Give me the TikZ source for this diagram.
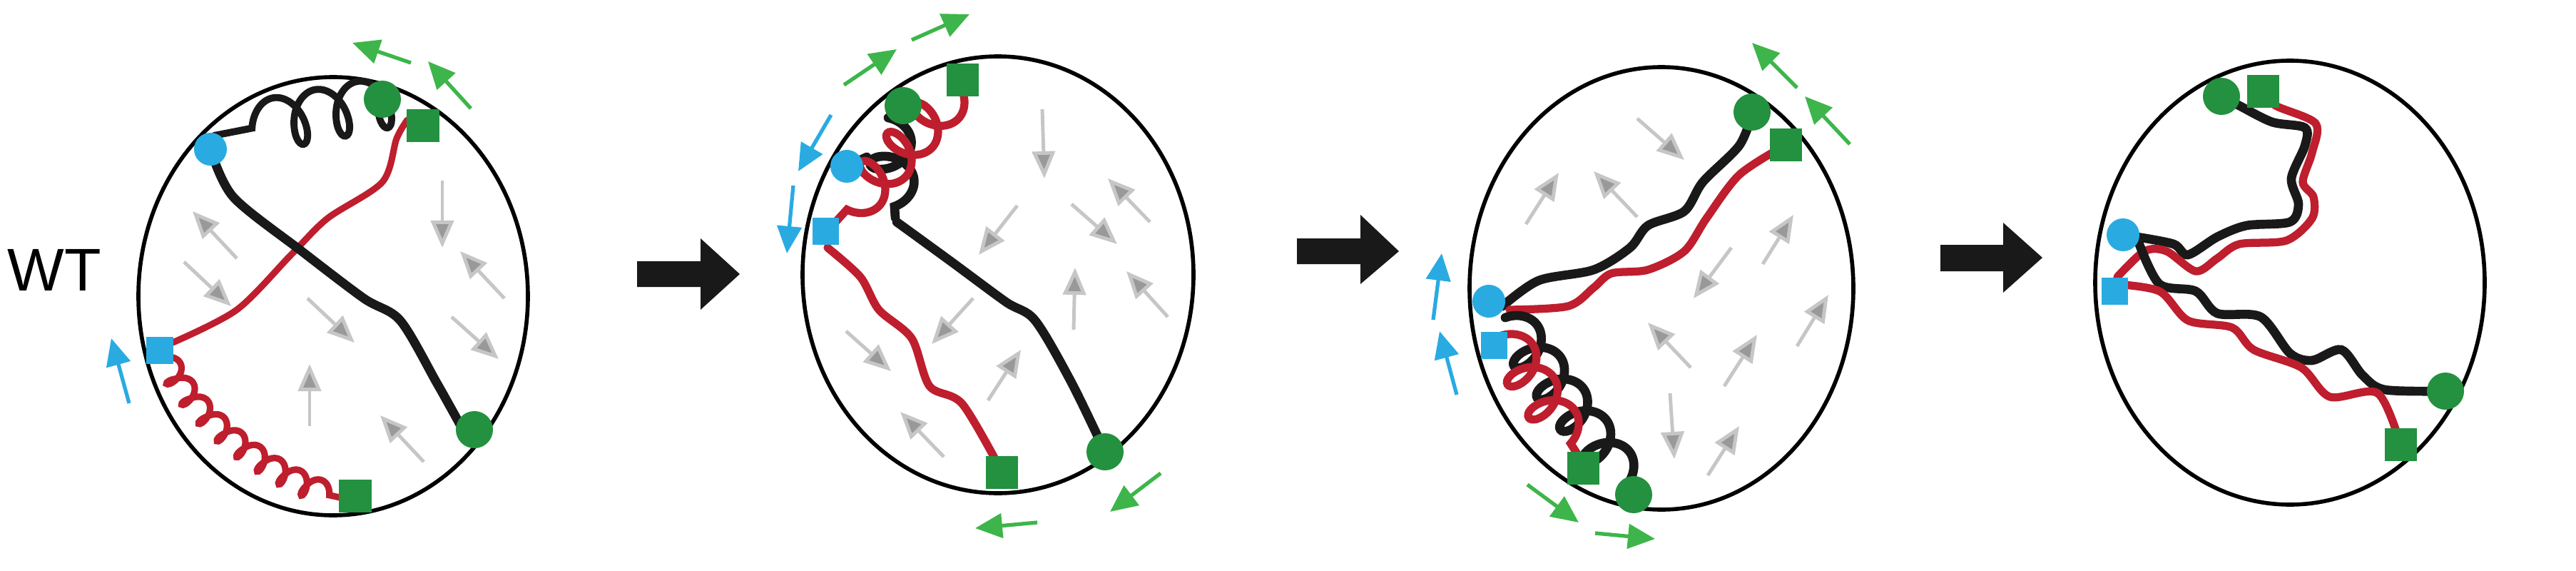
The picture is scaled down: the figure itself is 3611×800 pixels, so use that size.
\documentclass[tikz,border=0pt]{standalone}
\usepackage{fontspec}
\setmainfont{Liberation Sans}
\usetikzlibrary{arrows.meta,decorations.pathmorphing}
\definecolor{cblue}{HTML}{29ABE2}
\definecolor{cgreen}{HTML}{23913F}
\definecolor{agreen}{HTML}{3DB54A}
\definecolor{cred}{HTML}{BE1E2D}
\tikzset{
  cell/.style={black, line width=1.6pt},
  blk/.style={black!90, line width=3.6pt, line cap=round},
  rd/.style={cred, line width=3.2pt, line cap=round},
  coilA/.style={decorate, decoration={coil, aspect=-0.6, segment length=0.6cm, amplitude=0.36cm}},
  coilB/.style={decorate, decoration={coil, aspect=0.6, segment length=0.34cm, amplitude=0.15cm}},
  coilC/.style={decorate, decoration={coil, aspect=0.7, segment length=0.55cm, amplitude=0.3cm}},
  flow/.style={gray!45, line width=1.4pt, -{Triangle[length=0.38cm, width=0.32cm, fill=gray!80]}},
  gmove/.style={agreen, line width=1.5pt, -{Triangle[length=0.38cm, width=0.34cm]}},
  bmove/.style={cblue, line width=1.5pt, -{Triangle[length=0.38cm, width=0.34cm]}},
  bdot/.style={circle, fill=cblue, inner sep=0pt, minimum size=0.46cm},
  bsq/.style={rectangle, fill=cblue, inner sep=0pt, minimum size=0.37cm},
  gdot/.style={circle, fill=cgreen, inner sep=0pt, minimum size=0.52cm},
  gsq/.style={rectangle, fill=cgreen, inner sep=0pt, minimum size=0.45cm},
  bigarrow/.style={fill=black!90},
}
\begin{document}
\begin{tikzpicture}[x=0.01cm, y=-0.01cm]
  \useasboundingbox (0,0) rectangle (3611,800);

  \node (wt) at (76,378) {\fontsize{24}{28}\selectfont WT};

  % panel 1
  \draw[cell] (467,415) ellipse [x radius=273, y radius=307];
  \draw[flow] (332,362) -- (270,296);
  \draw[flow] (258,367) -- (324,429);
  \draw[flow] (620,253) -- (620,347);
  \draw[flow] (707,418) -- (645,352);
  \draw[flow] (633,444) -- (699,503);
  \draw[flow] (431,418) -- (497,480);
  \draw[flow] (434,597) -- (434,510);
  \draw[flow] (594,647) -- (533,582);
  \draw[rd, line width=2.6pt] plot[smooth] coordinates {(571,168) (556,194) (536,255) (459,306) (408,357) (332,434) (242,480)};
  \draw[blk] plot[smooth] coordinates {(295,209) (327,276) (423,352) (510,418) (561,449) (612,536) (645,595)};
  \draw[blk, line width=2.8pt, coilA] (530,145) -- (300,190);
  \draw[rd, line width=2.6pt, coilB] (232,500) .. controls (280,600) and (400,680) .. (490,700);
  \node[bdot] (b1) at (295,209) {};
  \node[bsq] (bs1) at (224,491) {};
  \node[gdot] (g1) at (536,139) {};
  \node[gsq] (gs1) at (593,176) {};
  \node[gdot] (g1b) at (665,602) {};
  \node[gsq] (gs1b) at (498,695) {};
  \draw[gmove] (576,88) -- (494,60);
  \draw[gmove] (660,152) -- (600,86);
  \draw[bmove] (181,565) -- (156,474);

  % arrow 1
  \fill[bigarrow] (893,366) -- (982,366) -- (982,334) -- (1037,384) -- (982,434) -- (982,402) -- (893,402) -- cycle;

  % panel 2
  \draw[cell] (1399,385) ellipse [x radius=274, y radius=306];
  \draw[flow] (1461,153) -- (1464,250);
  \draw[flow] (1426,288) -- (1372,357);
  \draw[flow] (1612,311) -- (1553,250);
  \draw[flow] (1502,286) -- (1566,342);
  \draw[flow] (1505,462) -- (1507,375);
  \draw[flow] (1637,444) -- (1579,380);
  \draw[flow] (1364,418) -- (1306,482);
  \draw[flow] (1186,464) -- (1249,520);
  \draw[flow] (1385,561) -- (1431,490);
  \draw[flow] (1323,640) -- (1262,577);
  \draw[rd] plot[smooth] coordinates {(1160,347) (1206,388) (1232,434) (1278,474) (1303,541) (1349,566) (1404,660)};
  \draw[blk] plot[smooth] coordinates {(1257,311) (1334,367) (1410,423) (1451,449) (1502,536) (1549,633)};
  \draw[blk, coilC] (1245,165) -- (1255,305);
  \draw[blk] (1187,233) -- (1215,220);
  \draw[rd, coilC] (1345,120) -- (1165,318);
  \node[bdot] (b2) at (1187,233) {};
  \node[bsq] (bs2) at (1157,324) {};
  \node[gdot] (g2) at (1266,148) {};
  \node[gsq] (gs2) at (1349,112) {};
  \node[gdot] (g2b) at (1549,633) {};
  \node[gsq] (gs2b) at (1404,662) {};
  \draw[gmove] (1183,119) -- (1257,69);
  \draw[gmove] (1278,56) -- (1359,20);
  \draw[gmove] (1627,663) -- (1556,717);
  \draw[gmove] (1454,732) -- (1367,740);
  \draw[bmove] (1165,161) -- (1119,240);
  \draw[bmove] (1112,260) -- (1103,355);

  % arrow 2
  \fill[bigarrow] (1818,334) -- (1907,334) -- (1907,301) -- (1961,352) -- (1907,398) -- (1907,370) -- (1818,370) -- cycle;

  % panel 3
  \draw[cell] (2329,404) ellipse [x radius=269, y radius=310];
  \draw[flow] (2295,166) -- (2361,224);
  \draw[flow] (2139,314) -- (2185,242);
  \draw[flow] (2295,304) -- (2234,240);
  \draw[flow] (2471,370) -- (2514,301);
  \draw[flow] (2427,347) -- (2374,418);
  \draw[flow] (2519,485) -- (2563,413);
  \draw[flow] (2370,515) -- (2310,452);
  \draw[flow] (2417,541) -- (2463,469);
  \draw[flow] (2341,551) -- (2347,643);
  \draw[flow] (2394,666) -- (2438,597);
  \draw[blk] plot[smooth] coordinates {(2106,429) (2157,393) (2234,378) (2285,347) (2310,316) (2361,296) (2387,255) (2438,204) (2456,160)};
  \draw[rd] plot[smooth] coordinates {(2116,434) (2198,429) (2234,403) (2259,383) (2310,378) (2361,352) (2392,306) (2438,245) (2500,205)};
  \draw[blk, coilC] (2110,445) -- (2285,685);
  \draw[rd, coilC] (2105,470) -- (2220,650);
  \node[bdot] (b3) at (2087,422) {};
  \node[bsq] (bs3) at (2094,484) {};
  \node[gdot] (g3) at (2456,157) {};
  \node[gsq] (gs3) at (2503,203) {};
  \node[gsq] (gs3b) at (2219,656) {};
  \node[gdot] (g3b) at (2290,693) {};
  \draw[gmove] (2519,123) -- (2456,60);
  \draw[gmove] (2593,202) -- (2530,135);
  \draw[gmove] (2141,679) -- (2213,732);
  \draw[gmove] (2236,747) -- (2320,755);
  \draw[bmove] (2009,448) -- (2021,355);
  \draw[bmove] (2042,553) -- (2018,464);

  % arrow 3
  \fill[bigarrow] (2720,343) -- (2808,343) -- (2808,312) -- (2863,361) -- (2808,410) -- (2808,380) -- (2720,380) -- cycle;

  % panel 4
  \draw[cell] (3210,396) ellipse [x radius=273, y radius=311];
  \draw[blk] plot[smooth] coordinates {(2996,332) (3047,342) (3067,357) (3108,332) (3149,316) (3210,311) (3222,286) (3212,250) (3231,204) (3231,179) (3185,171) (3139,148) (3114,135)};
  \draw[rd] plot[smooth] coordinates {(2968,388) (3006,352) (3037,352) (3078,380) (3108,362) (3139,342) (3205,337) (3241,306) (3243,276) (3228,255) (3241,214) (3246,173) (3190,148) (3172,128)};
  \draw[blk] plot[smooth] coordinates {(2998,340) (3027,398) (3078,408) (3108,439) (3169,444) (3210,495) (3241,505) (3282,490) (3312,526) (3343,546) (3428,548)};
  \draw[rd] plot[smooth] coordinates {(2964,398) (3027,408) (3067,449) (3129,459) (3159,490) (3226,515) (3266,556) (3333,551) (3365,623)};
  \node[bdot] (b4) at (2976,329) {};
  \node[bsq] (bs4) at (2964,408) {};
  \node[gdot] (g4) at (3114,135) {};
  \node[gsq] (gs4) at (3172,128) {};
  \node[gdot] (g4b) at (3428,548) {};
  \node[gsq] (gs4b) at (3365,623) {};
\end{tikzpicture}
\end{document}
